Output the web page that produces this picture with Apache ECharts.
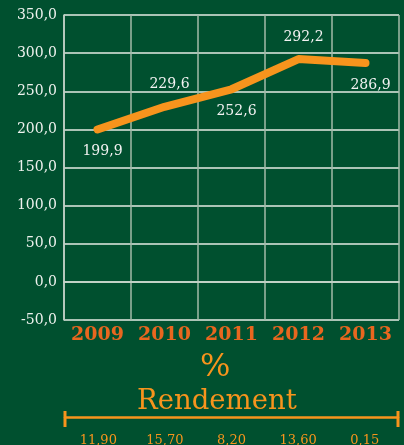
<!DOCTYPE html>
<html>
<head>
<meta charset="utf-8">
<script src="https://cdn.jsdelivr.net/npm/echarts@6/dist/echarts.min.js"></script>
<style>
 html, body { margin: 0; padding: 0; background: #00502f; }
 #main { width: 404px; height: 445px; }
</style>
</head>
<body>
<div id="main"></div>
<script>
 var years = ['2009', '2010', '2011', '2012', '2013'];
 var prix = [199.9, 229.6, 252.6, 292.2, 286.9];
 var rendement = ['11,90', '15,70', '8,20', '13,60', '0,15'];

 var fmt = function (v) {
     return v.toFixed(1).replace('.', ',');
 };

 // labels alternate below / above the line
 var lineData = [];
 for (var i = 0; i < prix.length; i++) {
     lineData.push({
         value: prix[i],
         label: { position: i % 2 === 0 ? 'bottom' : 'top' }
     });
 }

 var orange = '#f7941d';
 var serif = 'DejaVu Serif';

 option = {
     backgroundColor: '#00502f',
     animation: false,
     title: [
         {
             text: '%',
             left: 200,
             top: 352,
             padding: 0,
             textStyle: { color: orange, fontFamily: serif, fontWeight: 'normal', fontSize: 32 }
         },
         {
             text: 'Rendement',
             left: 137,
             top: 388,
             padding: 0,
             textStyle: { color: orange, fontFamily: serif, fontWeight: 'normal', fontSize: 27.5 }
         }
     ],
     grid: [
         { left: 64, right: 5, top: 15, bottom: 125 },
         { left: 65, right: 6, top: 417, height: 1 }
     ],
     xAxis: [
         {
             type: 'category',
             data: years,
             gridIndex: 0,
             axisLine: { lineStyle: { color: '#c9d6cc', width: 1.5 } },
             axisTick: { show: false },
             splitLine: { show: true, interval: 0, lineStyle: { color: '#a3bbaa', width: 1.5 } },
             axisLabel: {
                 interval: 0,
                 color: '#e8671f',
                 fontFamily: serif,
                 fontWeight: 'bold',
                 fontSize: 19,
                 margin: 6
             }
         },
         {
             type: 'category',
             data: rendement,
             gridIndex: 1,
             axisLine: { lineStyle: { color: orange, width: 2.5 } },
             axisTick: { show: false },
             axisLabel: {
                 interval: 0,
                 color: orange,
                 fontFamily: serif,
                 fontSize: 13,
                 margin: 17
             }
         }
     ],
     yAxis: [
         {
             type: 'value',
             gridIndex: 0,
             min: -50,
             max: 350,
             interval: 50,
             axisLine: { show: true, lineStyle: { color: '#c9d6cc', width: 1.5 } },
             axisTick: { show: false },
             splitLine: { lineStyle: { color: '#e4ebe5', width: 1.5 } },
             axisLabel: {
                 color: '#eef2ee',
                 fontFamily: serif,
                 fontSize: 14,
                 margin: 7,
                 formatter: fmt
             }
         },
         {
             type: 'value',
             gridIndex: 1,
             show: false
         }
     ],
     graphic: [
         { type: 'line', shape: { x1: 65, y1: 411, x2: 65, y2: 427 }, style: { stroke: orange, lineWidth: 3 } },
         { type: 'line', shape: { x1: 398, y1: 411, x2: 398, y2: 427 }, style: { stroke: orange, lineWidth: 3 } }
     ],
     series: [
         {
             type: 'line',
             xAxisIndex: 0,
             yAxisIndex: 0,
             data: lineData,
             symbol: 'circle',
             symbolSize: 2,
             showSymbol: true,
             itemStyle: { color: orange },
             lineStyle: { color: orange, width: 8, cap: 'round', join: 'round' },
             label: {
                 show: true,
                 distance: 14,
                 offset: [5, 0],
                 color: '#f2f2f2',
                 fontFamily: serif,
                 fontSize: 14,
                 formatter: function (p) { return fmt(p.value); }
             }
         }
     ]
 };

 var myChart = echarts.init(document.getElementById('main'));
 myChart.setOption(option);
</script>
</body>
</html>
